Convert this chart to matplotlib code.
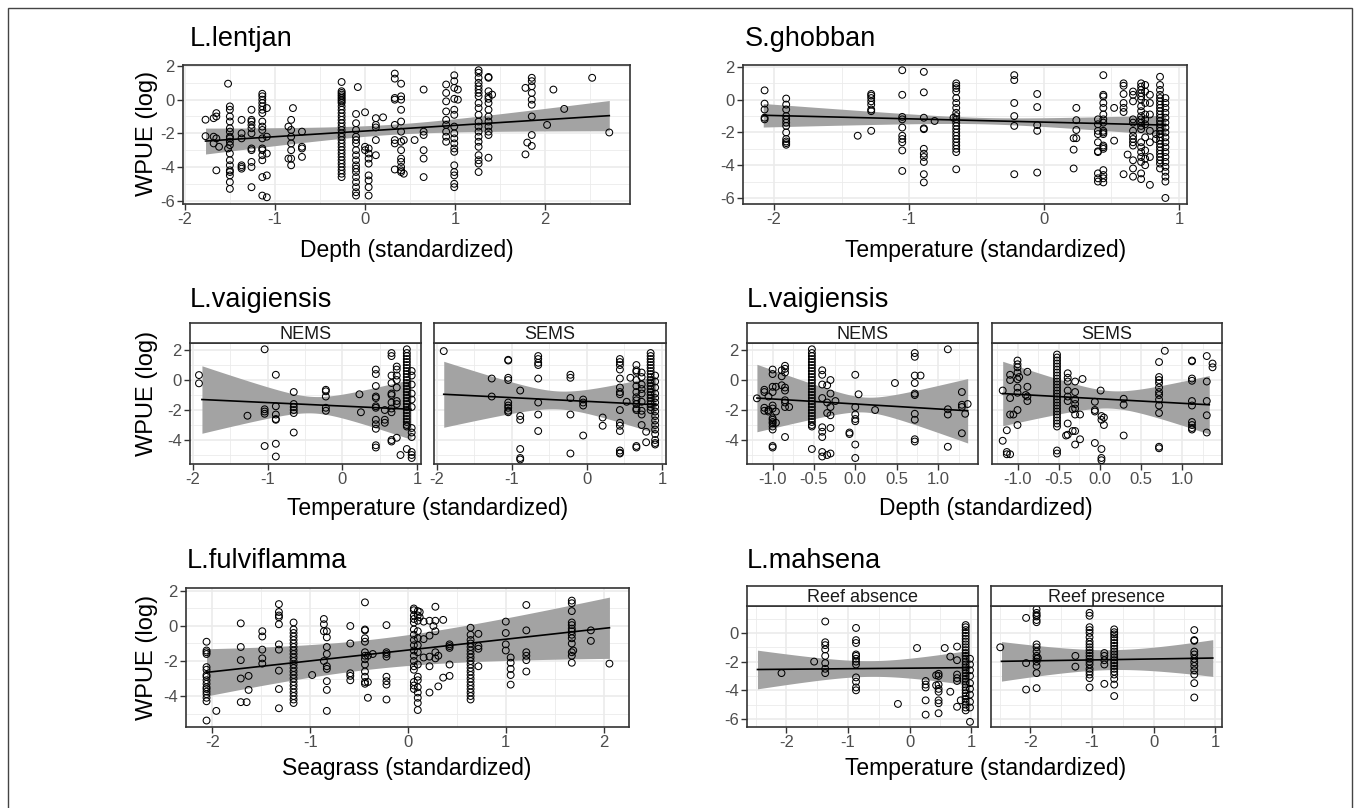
import numpy as np
import matplotlib
matplotlib.use("Agg")
import matplotlib.pyplot as plt
from matplotlib.ticker import MultipleLocator, FormatStrFormatter
from matplotlib.patches import Rectangle

plt.rcParams['font.family'] = ['Liberation Sans', 'DejaVu Sans']
plt.rcParams['axes.unicode_minus'] = False

W, H = 1360, 808

# ---------------- data: (x value, [WPUE log values]) columns ----------------
lentjan_depth = [
    (-1.77, [-1.19, -2.17]), (-1.68, [-1.1, -2.2, -2.6]), (-1.65, [-0.8, -1.0, -2.3, -4.2]),
    (-1.62, [-2.8]), (-1.52, [0.95, -2.9]),
    (-1.50, [-0.4, -0.6, -1.0, -1.3, -1.7, -1.9, -2.2, -2.3, -2.5, -2.7, -3.2, -3.6, -3.9, -4.2, -4.3, -4.5, -4.9, -5.3]),
    (-1.37, [-1.2, -2.0, -2.3, -3.9, -4.0, -4.1]),
    (-1.26, [-0.6, -1.2, -1.3, -1.5, -1.7, -2.0, -2.9, -3.0, -3.7, -4.0, -5.2]),
    (-1.14, [0.35, 0.2, 0.0, -0.2, -0.4, -0.6, -0.8, -1.3, -1.6, -1.8, -2.3, -2.9, -3.0, -3.3, -3.6, -4.6, -5.7]),
    (-1.09, [-0.5, -2.2, -3.2, -4.5, -5.8]), (-0.85, [-1.6, -3.5]),
    (-0.82, [-1.2, -1.8, -2.2, -2.6, -3.0, -3.5, -3.9]), (-0.80, [-0.5]),
    (-0.70, [-1.9, -2.8, -2.9, -3.4]),
    (-0.26, [1.05, 0.5, 0.4, 0.3, 0.2, 0.1, 0.0, -0.1, -0.2, -0.4, -0.6, -0.8, -1.0, -1.2, -1.4, -1.6, -1.8, -2.0,
             -2.2, -2.4, -2.6, -2.8, -3.0, -3.2, -3.4, -3.6, -3.8, -4.0, -4.2, -4.4, -4.6]),
    (-0.10, [-0.85, -1.4, -1.8, -2.2, -2.4, -2.6, -3.0, -3.3, -3.6, -3.9, -4.1, -4.3, -4.6, -4.9, -5.2, -5.5, -5.7]),
    (-0.08, [0.75]), (0.00, [-0.75, -2.8, -3.0]),
    (0.04, [-2.9, -3.2, -3.5, -3.8, -4.5, -4.8, -5.2, -5.7]),
    (0.12, [-1.1, -1.5, -1.65, -2.4, -3.3]), (0.20, [-1.05]),
    (0.33, [1.55, 1.25, 0.1, 0.0, -1.5, -2.4, -2.6, -4.15]),
    (0.40, [0.95, 0.2, 0.0, -0.6, -1.3, -1.9, -2.5, -3.0, -3.5, -3.7, -4.0, -4.2, -4.3]),
    (0.43, [-2.4, -4.4]), (0.55, [-2.4]), (0.65, [0.6, -1.9, -2.1, -3.0, -3.5, -4.6]),
    (0.90, [0.9, 0.4, -0.1, -0.7, -1.2, -1.5, -1.9, -2.2, -2.5]),
    (0.99, [1.45, 1.1, 0.7, 0.05, -0.6, -0.9, -1.6, -2.0, -2.3, -2.6, -2.9, -3.1, -3.9, -4.3, -4.5, -5.0, -5.2]),
    (1.03, [0.6, 0.0]),
    (1.26, [1.75, 1.6, 1.3, 1.0, 0.8, 0.6, 0.4, 0.2, -0.2, -0.5, -0.9, -1.3, -1.6, -1.9, -2.2, -2.5, -2.8, -3.3,
            -3.6, -3.8, -4.3]),
    (1.37, [1.35, 1.3, 0.5, 0.2, 0.05, -0.2, -0.6, -1.0, -1.3, -1.6, -1.9, -2.1, -3.45]),
    (1.41, [0.3]), (1.78, [0.7, -3.25]), (1.80, [-2.55]),
    (1.85, [1.3, 1.1, 0.8, 0.4, 0.0, -0.3, -1.0, -2.1, -2.75]),
    (2.02, [-1.5]), (2.09, [0.6]), (2.21, [-0.55]), (2.52, [1.3]), (2.71, [-1.95]),
]

ghobban_temp = [
    (-2.07, [0.57, -0.24, -0.6, -1.1, -1.2]),
    (-1.91, [0.07, -0.3, -0.6, -1.0, -1.2, -1.4, -1.6, -2.0, -2.4, -2.55, -2.65, -2.75]),
    (-1.38, [-2.2]), (-1.28, [0.35, 0.25, 0.1, -0.1, -0.3, -0.6, -0.7, -1.9]),
    (-1.05, [1.8, 0.3, -1.05, -1.2, -1.7, -2.2, -2.4, -2.6, -3.1, -4.35]),
    (-0.89, [1.7, 0.45, -1.1, -1.75, -1.8, -3.0, -3.3, -3.5, -3.8, -4.55, -5.05]),
    (-0.81, [-1.3]), (-0.67, [-1.1]),
    (-0.65, [1.0, 0.85, 0.7, 0.5, 0.1, -0.2, -0.5, -0.8, -1.0, -1.2, -1.4, -1.6, -1.8, -2.0, -2.2, -2.4, -2.6,
             -2.8, -3.0, -3.2, -4.25]),
    (-0.22, [1.5, 1.2, -0.2, -1.0, -1.6, -4.55]), (-0.05, [0.35, -0.45, -1.55, -1.9, -4.45]),
    (0.22, [-2.35, -3.05, -4.2]), (0.24, [-0.5, -1.25, -1.85, -2.35]),
    (0.40, [-1.2, -1.5, -1.9, -2.1, -2.6, -3.15, -3.2, -4.5, -4.8, -5.0]),
    (0.44, [1.5, 0.3, 0.2, -0.2, -0.5, -0.9, -1.2, -1.4, -1.9, -2.0, -2.1, -2.8, -2.9, -3.0, -4.3, -4.6, -4.8, -5.05]),
    (0.52, [-0.5, -2.5]), (0.59, [1.0, 0.85, 0.35, -0.2, -0.5, -0.75, -4.55]), (0.62, [-3.35]),
    (0.66, [0.5, 0.3, -0.1, -1.2, -1.4, -1.9, -2.2, -2.4, -2.6, -2.8, -3.7, -4.2, -4.7]),
    (0.72, [1.0, 0.8, 0.6, 0.4, 0.2, 0.0, -0.4, -0.7, -1.0, -1.2, -1.4, -1.6, -1.8, -2.6, -2.9, -3.2, -3.5, -3.8,
            -4.5, -4.85]),
    (0.75, [0.9, 0.5, -0.2, -0.9, -1.2, -1.5, -2.3, -3.1, -3.6, -4.0]),
    (0.785, [0.3, -0.2, -0.9, -1.9, -2.6, -3.5, -5.2]), (0.83, [-2.1, -2.4]),
    (0.86, [1.4, 0.9, 0.6, 0.3, 0.1, -0.1, -0.3, -0.5, -0.7, -0.9, -1.1, -1.3, -1.5, -1.7, -1.9, -2.1, -2.3, -2.5,
            -2.7, -2.9, -3.1, -3.3, -3.5, -3.7, -3.9, -4.2]),
    (0.90, [0.1, -0.2, -0.5, -0.8, -1.1, -1.4, -1.7, -2.0, -2.3, -2.6, -2.9, -3.2, -3.5, -3.8, -4.1, -4.4, -4.7,
            -5.0, -6.0]),
]

vaig_temp_nems = [
    (-1.92, [0.33, -0.22]), (-1.27, [-2.38]), (-1.04, [2.05, -1.95, -2.1, -2.25, -4.4]),
    (-0.89, [0.35, -1.75, -2.3, -2.6, -2.65, -4.25, -5.1]), (-0.65, [-0.8, -1.6, -1.8, -2.0, -2.2, -3.5]),
    (-0.22, [-0.65, -0.75, -1.1, -1.85, -2.05]), (0.23, [-0.95]), (0.25, [-2.15]),
    (0.45, [0.7, 0.4, -0.4, -1.1, -1.2, -1.75, -1.85, -2.65, -2.95, -3.25, -4.35, -4.5]),
    (0.57, [-2.0, -2.65, -2.85]),
    (0.66, [1.8, 1.6, 0.3, -0.2, -0.9, -1.0, -1.5, -1.9, -2.15, -4.0, -4.1]),
    (0.73, [0.9, 0.7, 0.3, 0.0, -0.5, -1.4, -1.6, -3.85]), (0.78, [-5.0]),
    (0.865, [2.05, 1.8, 1.6, 1.4, 1.2, 1.0, 0.8, 0.6, 0.4, 0.2, 0.0, -0.2, -0.4, -0.6, -0.8, -1.0, -1.2, -1.4,
             -1.6, -1.8, -2.0, -2.2, -2.4, -2.6, -2.8, -3.0, -3.1, -4.6]),
    (0.93, [0.6, 0.3, -0.3, -0.9, -1.3, -1.8, -3.2, -3.5, -3.8, -4.8, -5.0, -5.2]),
]

vaig_temp_sems = [
    (-1.91, [1.93]), (-1.27, [0.1, -1.1]), (-1.05, [1.35, 1.3, 0.15, 0.0, -1.5, -1.7, -1.85, -2.05, -2.15]),
    (-0.89, [-0.7, -2.4, -2.65, -4.6, -5.2, -5.3]), (-0.65, [1.6, 1.4, 1.15, 1.0, 0.1, -1.5, -2.3, -3.4]),
    (-0.22, [0.35, 0.15, -1.2, -2.3, -4.9]), (-0.05, [-1.3, -1.5, -1.7, -3.7]), (0.21, [-2.5, -3.05]),
    (0.44, [1.4, 1.2, 1.0, 0.7, 0.1, -0.5, -0.8, -0.95, -2.0, -2.85, -3.05, -3.4, -4.7, -4.85, -4.9]),
    (0.53, [-1.45]), (0.58, [0.15]),
    (0.66, [1.0, 0.65, 0.55, 0.0, -0.4, -0.8, -1.15, -1.35, -1.6, -1.9, -2.0, -4.4, -4.5]),
    (0.73, [0.5, 0.2, -0.3, -0.6, -0.9, -1.45, -2.05, -2.3, -3.0]), (0.79, [-3.45, -4.15]),
    (0.85, [1.8, 1.6, 1.4, 1.2, 1.0, 0.8, 0.6, 0.4, 0.2, 0.0, -0.2, -0.4, -0.6, -0.8, -1.0, -1.2, -1.4, -1.6,
            -1.8, -2.0]),
    (0.91, [0.3, -0.1, -0.5, -0.9, -1.2, -1.5, -1.8, -2.1, -2.4, -2.7, -3.0, -3.3, -3.6, -4.0, -4.2, -4.3]),
]

vaig_depth_nems = [
    (-1.19, [-1.22]), (-1.10, [-0.65, -0.8, -1.85, -2.05]), (-1.05, [-1.1, -2.0, -2.1]),
    (-1.00, [0.7, 0.4, -0.45, -0.8, -1.7, -1.9, -2.55, -2.65, -2.8, -2.9, -3.1, -3.3, -4.4, -4.5]),
    (-0.96, [-0.45, -2.1, -2.85]), (-0.89, [0.65, 0.25, -0.35]),
    (-0.85, [0.95, 0.75, 0.5, -0.5, -0.7, -1.35, -1.5, -1.8, -3.8]), (-0.80, [-1.8]),
    (-0.525, [2.05, 1.8, 1.6, 1.4, 1.2, 1.0, 0.8, 0.6, 0.4, 0.2, 0.0, -0.2, -0.4, -0.6, -0.8, -1.0, -1.2, -1.4,
              -1.6, -1.8, -2.0, -2.2, -2.4, -2.6, -2.8, -3.0, -3.1, -4.6]),
    (-0.40, [0.65, 0.35, -0.3, -1.2, -3.15, -3.45, -3.8, -4.8, -5.1]), (-0.34, [-0.35, -1.5, -2.2, -5.0]),
    (-0.30, [0.0, -0.9, -1.8, -2.35, -3.2, -4.9]), (-0.24, [-1.4]), (-0.07, [-3.5, -3.6]),
    (0.00, [0.35, -1.8, -2.3, -2.6, -2.75, -4.3, -5.2]), (0.04, [-0.95]), (0.24, [-2.0]), (0.48, [-0.2]),
    (0.72, [1.8, 1.55, 0.3, -0.2, -0.9, -1.0, -2.25, -2.65, -3.95, -4.1]), (0.79, [0.3]),
    (1.12, [2.05, -1.95, -2.3, -4.45]), (1.29, [-0.8, -1.65, -1.8, -3.55]), (1.33, [-2.25]), (1.36, [-1.6]),
]

vaig_depth_sems = [
    (-1.18, [-0.7, -4.05]), (-1.13, [-3.35, -4.8, -4.95]), (-1.09, [0.35, 0.0, -1.2, -2.3, -4.95]),
    (-1.05, [-2.3]), (-1.00, [1.3, 1.05, 0.85, 0.5, 0.05, -0.5, -0.85, -2.0, -3.0]), (-0.98, [0.2]),
    (-0.90, [-1.0]), (-0.88, [0.55, -0.45, -1.1, -1.4]),
    (-0.52, [1.7, 1.5, 1.3, 1.1, 0.9, 0.7, 0.5, 0.3, 0.1, -0.1, -0.3, -0.5, -0.7, -0.9, -1.1, -1.3, -1.5, -1.7,
             -1.9, -2.1, -2.3, -2.5, -2.7, -2.9, -3.1, -4.7, -4.9]),
    (-0.41, [-3.7]), (-0.39, [0.45, 0.15, -0.1, -0.7, -1.1, -1.4, -2.9, -3.65]), (-0.33, [-1.95, -3.4]),
    (-0.30, [-0.1, -0.8, -1.3, -1.6, -1.9, -2.3, -3.4, -4.3]), (-0.24, [-2.3, -3.95]), (-0.21, [0.07]),
    (-0.06, [-1.45, -2.0, -2.1, -4.2]), (0.01, [-0.7]), (0.02, [-2.4, -2.65, -4.6, -5.2, -5.35]),
    (0.05, [-2.5, -3.0]), (0.29, [-1.25, -1.65, -3.7]),
    (0.72, [1.2, 0.2, 0.0, -0.2, -0.5, -0.8, -1.0, -1.3, -1.7, -2.2, -4.45, -4.55]), (0.79, [1.95]),
    (1.12, [1.3, 1.25, 0.1, -0.05, -1.4, -1.7, -2.8, -3.0, -3.2, -3.3]), (1.30, [1.6, -0.1, -1.4, -2.35, -3.5]),
    (1.37, [1.1, 0.85]),
]

fulvi_seagrass = [
    (-2.06, [-0.9, -1.4, -1.5, -1.6, -2.35, -2.5, -2.8, -2.9, -3.1, -3.3, -3.5, -3.6, -3.75, -3.9, -4.1, -4.3, -5.4]),
    (-1.96, [-4.85]), (-1.71, [0.15, -1.2, -1.95, -3.0, -4.35]), (-1.65, [-4.35]), (-1.63, [-2.85, -3.65]),
    (-1.49, [-0.3, -0.6, -1.35, -1.85, -2.15]),
    (-1.32, [1.25, 0.8, 0.6, 0.5, 0.1, -1.05, -1.35, -2.55, -3.6, -4.7]),
    (-1.17, [0.2, -0.2, -0.4, -0.6, -0.8, -1.0, -1.2, -1.4, -1.6, -1.8, -2.0, -2.2, -2.4, -2.6, -2.8, -3.0, -3.2,
             -3.4, -3.6, -3.8, -4.0, -4.2, -4.4]),
    (-0.98, [-2.8]), (-0.86, [0.4, 0.1, -0.3, -2.0]),
    (-0.83, [-0.3, -0.65, -1.2, -1.6, -2.3, -2.45, -3.15, -3.65, -4.85]),
    (-0.59, [0.0, -1.0, -2.7, -2.85, -3.1]),
    (-0.44, [1.35, -0.2, -0.25, -0.7, -0.9, -1.5, -1.7, -1.9, -2.2, -2.6, -2.9, -3.2, -3.3]),
    (-0.41, [-1.7, -3.2, -4.1]), (-0.36, [-1.6]),
    (-0.22, [0.05, -1.5, -1.6, -1.75, -2.9, -3.15, -3.35, -4.2]),
    (0.06, [1.0, 0.9, 0.6, 0.4, 0.2, -0.2, -0.5, -0.8, -1.1, -1.4, -1.7, -2.0, -2.3, -2.5, -3.2, -3.4, -3.6]),
    (0.10, [0.85, 0.6, 0.3, -0.3, -0.7, -1.1, -1.5, -2.2, -2.9, -3.1, -3.5, -3.8, -4.1, -4.4, -4.8]),
    (0.12, [0.8, 0.5]), (0.16, [0.25, -0.75, -1.8]), (0.22, [0.3, -0.55, -1.75, -2.3, -3.8]), (0.26, [0.0]),
    (0.28, [1.1, 0.3, -0.3, -1.5, -1.85]), (0.31, [-1.7, -3.45]), (0.36, [0.35, -2.95]),
    (0.425, [-1.05, -1.15, -1.25, -2.2, -2.85]),
    (0.64, [-0.1, -0.5, -0.8, -1.0, -1.2, -1.4, -1.6, -1.8, -2.0, -2.2, -2.4, -2.6, -2.8, -3.0, -3.2, -3.4, -3.6,
            -3.8, -4.0, -4.2]),
    (0.72, [-0.45, -1.15, -1.3, -2.3]), (1.00, [0.25, -0.4, -1.05, -1.4]),
    (1.05, [-1.8, -2.1, -2.45, -2.8, -3.35]), (1.21, [1.2, -0.25, -1.5, -1.7, -1.95, -2.6]),
    (1.675, [1.45, 1.3, 0.85, 0.2, 0.05, -0.15, -0.3, -0.5, -0.7, -1.0, -1.5, -1.7, -2.1]),
    (1.69, [-1.4]), (1.87, [-0.25, -0.85]), (2.06, [-2.15]),
]

mahsena_absence = [
    (-2.08, [-2.8]), (-1.55, [-2.0]), (-1.37, [0.8, -0.65, -0.85, -1.15, -1.6, -2.1, -2.5, -2.8]),
    (-0.87, [0.35, -0.5, -0.7, -1.5, -1.6, -1.8, -2.0, -2.2, -3.1, -3.4, -3.8, -4.0]),
    (-0.19, [-4.95]), (0.12, [-1.05]), (0.26, [-3.35, -3.6, -3.8, -4.7, -5.7]), (0.43, [-3.65, -2.95]),
    (0.47, [-2.85, -3.0, -3.6, -3.9, -4.1, -4.7, -4.9, -5.6]), (0.57, [-1.05]), (0.66, [-1.65, -4.1]),
    (0.77, [-0.95, -1.9, -2.9, -3.15, -3.35, -5.15]), (0.83, [-4.7]),
    (0.91, [0.55, 0.4, 0.2, 0.0, -0.2, -0.4, -0.6, -0.8, -1.0, -1.2, -1.4, -1.6, -1.8, -2.0, -2.2, -2.4, -2.6,
            -2.8, -3.0, -3.2, -3.4, -3.6, -3.8, -4.0, -4.2, -4.4, -4.6, -4.8, -5.0, -5.2, -5.4]),
    (0.98, [-1.8, -2.2, -2.6, -3.0, -3.5, -3.9, -4.3, -4.8, -5.2, -6.2]),
]

mahsena_presence = [
    (-2.49, [-1.0]), (-2.07, [1.05, -2.1, -3.95]),
    (-1.90, [1.65, 1.4, 1.25, 1.15, 0.9, 0.75, -0.8, -1.0, -1.3, -1.6, -1.8, -2.0, -2.3, -2.8, -3.85]),
    (-1.88, [-1.75]), (-1.27, [-1.6, -2.35]),
    (-1.04, [1.4, 1.2, 0.4, 0.2, 0.0, -0.3, -0.6, -0.8, -1.0, -1.2, -1.4, -1.6, -1.8, -2.0, -2.2, -2.5, -2.7,
             -2.9, -3.15, -3.8]),
    (-0.80, [-1.4, -1.6, -1.9, -2.2, -3.55]),
    (-0.64, [0.25, 0.05, -0.1, -0.3, -0.5, -0.7, -0.9, -1.1, -1.3, -1.5, -1.7, -1.9, -2.1, -2.3, -2.5, -2.7,
             -2.9, -3.2, -3.6, -4.4]),
    (0.66, [0.2, -0.5, -0.55, -1.3, -1.5, -1.8, -2.05, -2.3, -2.6, -2.9, -3.5, -4.5]),
]

# fitted line (x range, y at ends) and confidence half-widths at three x positions
fit_lentjan = dict(x=[-1.77, 2.71], y=[-2.46, -0.95], hx=[-1.77, 0.3, 2.71], hw=[0.77, 0.30, 0.90])
fit_ghobban = dict(x=[-2.08, 0.90], y=[-0.95, -1.55], hx=[-2.08, 0.1, 0.90], hw=[0.72, 0.30, 0.60])
fit_vt_nems = dict(x=[-1.88, 0.92], y=[-1.3, -1.95], hx=[-1.88, -0.4, 0.92], hw=[2.25, 0.55, 2.0])
fit_vt_sems = dict(x=[-1.91, 0.92], y=[-0.95, -1.65], hx=[-1.91, -0.4, 0.92], hw=[2.2, 0.6, 1.9])
fit_vd_nems = dict(x=[-1.19, 1.36], y=[-1.2, -2.05], hx=[-1.19, 0.1, 1.36], hw=[2.25, 0.5, 2.15])
fit_vd_sems = dict(x=[-1.18, 1.33], y=[-0.9, -1.65], hx=[-1.18, 0.05, 1.33], hw=[2.15, 0.6, 1.95])
fit_fulvi = dict(x=[-2.06, 2.06], y=[-2.65, -0.10], hx=[-2.06, -0.3, 2.06], hw=[1.35, 0.85, 1.75])
fit_mah_abs = dict(x=[-2.47, 0.96], y=[-2.55, -2.42], hx=[-2.47, -0.7, 0.96], hw=[1.35, 0.55, 1.2])
fit_mah_pre = dict(x=[-2.47, 0.96], y=[-1.98, -1.75], hx=[-2.47, -0.8, 0.96], hw=[1.38, 0.7, 1.28])

# ---------------- drawing ----------------
GRID = '#EBEBEB'
BORDER = '#333333'
TICKC = '#4D4D4D'

fig = plt.figure(figsize=(W / 100, H / 100), dpi=100)


def px_axes(x0, y0, x1, y1):
    return fig.add_axes([x0 / W, 1 - y1 / H, (x1 - x0) / W, (y1 - y0) / H])


def columns_to_xy(cols):
    xs, ys = [], []
    for xv, yl in cols:
        xs.extend([xv] * len(yl))
        ys.extend(yl)
    return np.array(xs), np.array(ys)


def panel(box, cols, fit, xlim, ylim, xstep, ystep, xfmt='%d', ylabels=True, strip=None):
    ax = px_axes(*box)
    ax.set_xlim(*xlim)
    ax.set_ylim(*ylim)
    ax.xaxis.set_major_locator(MultipleLocator(xstep))
    ax.xaxis.set_minor_locator(MultipleLocator(xstep / 2))
    ax.yaxis.set_major_locator(MultipleLocator(ystep))
    ax.yaxis.set_minor_locator(MultipleLocator(ystep / 2))
    ax.xaxis.set_major_formatter(FormatStrFormatter(xfmt))
    ax.yaxis.set_major_formatter(FormatStrFormatter('%d'))
    ax.grid(True, which='major', color=GRID, lw=1.2, zorder=0)
    ax.grid(True, which='minor', color=GRID, lw=0.6, zorder=0)
    ax.set_axisbelow(True)
    for s in ax.spines.values():
        s.set_color(BORDER)
        s.set_linewidth(1.2)
    ax.tick_params(which='major', direction='out', length=4, width=1.0, color=BORDER,
                   labelsize=12, labelcolor=TICKC, pad=2)
    ax.tick_params(which='minor', length=0)
    if not ylabels:
        ax.tick_params(axis='y', which='major', length=0, labelleft=False)
    # band + fit
    xs = np.linspace(fit['x'][0], fit['x'][1], 300)
    slope = (fit['y'][1] - fit['y'][0]) / (fit['x'][1] - fit['x'][0])
    yfit = fit['y'][0] + slope * (xs - fit['x'][0])
    coef = np.polyfit(fit['hx'], np.square(fit['hw']), 2)
    hw = np.sqrt(np.clip(np.polyval(coef, xs), 0, None))
    ax.fill_between(xs, yfit - hw, yfit + hw, color='#A3A3A3', lw=0, zorder=2)
    px, py = columns_to_xy(cols)
    ax.scatter(px, py, s=24, facecolors='none', edgecolors='black', linewidths=0.75, zorder=3)
    ax.plot(xs, yfit, color='black', lw=1.2, zorder=4)
    if strip is not None:
        x0, y0, x1, y1 = box
        sax = px_axes(x0, y0 - 20, x1, y0)
        sax.set_xticks([])
        sax.set_yticks([])
        sax.set_facecolor('white')
        for s in sax.spines.values():
            s.set_color(BORDER)
            s.set_linewidth(1.2)
        sax.text(0.5, 0.45, strip, transform=sax.transAxes, ha='center', va='center',
                 fontsize=13, color='#1A1A1A')
    return ax


def ftext(x, y, s, **kw):
    fig.text(x / W, 1 - y / H, s, **kw)


TITLE = 19.5
XLAB = 16.5
YLAB = 17

# Row 1
panel((183, 65, 630, 204), lentjan_depth, fit_lentjan, (-2.02, 2.94), (-6.2, 2.06), 1, 2)
panel((743, 65, 1187, 204), ghobban_temp, fit_ghobban, (-2.23, 1.06), (-6.37, 2.12), 1, 2)
ftext(190, 46, 'L.lentjan', fontsize=TITLE, va='baseline')
ftext(745, 46, 'S.ghobban', fontsize=TITLE, va='baseline')
ftext(407, 257, 'Depth (standardized)', fontsize=XLAB, ha='center', va='baseline')
ftext(986, 257, 'Temperature (standardized)', fontsize=XLAB, ha='center', va='baseline')
ftext(147, 133, 'WPUE (log)', fontsize=YLAB, ha='center', va='center', rotation=90)

# Row 2
YL2 = (-5.6, 2.47)
panel((190, 343, 421, 464), vaig_temp_nems, fit_vt_nems, (-2.04, 1.055), YL2, 1, 2, strip='NEMS')
panel((434, 343, 666, 464), vaig_temp_sems, fit_vt_sems, (-2.04, 1.055), YL2, 1, 2, ylabels=False, strip='SEMS')
panel((747, 343, 978, 464), vaig_depth_nems, fit_vd_nems, (-1.31, 1.485), YL2, 0.5, 2, xfmt='%.1f', strip='NEMS')
panel((992, 343, 1222, 464), vaig_depth_sems, fit_vd_sems, (-1.31, 1.485), YL2, 0.5, 2, xfmt='%.1f',
      ylabels=False, strip='SEMS')
ftext(190, 307, 'L.vaigiensis', fontsize=TITLE, va='baseline')
ftext(747, 307, 'L.vaigiensis', fontsize=TITLE, va='baseline')
ftext(428, 515, 'Temperature (standardized)', fontsize=XLAB, ha='center', va='baseline')
ftext(986, 515, 'Depth (standardized)', fontsize=XLAB, ha='center', va='baseline')
ftext(147, 393, 'WPUE (log)', fontsize=YLAB, ha='center', va='center', rotation=90)

# Row 3
YL3 = (-6.56, 1.88)
panel((186, 588, 629, 727), fulvi_seagrass, fit_fulvi, (-2.27, 2.26), (-5.77, 2.17), 1, 2)
panel((747, 606, 978, 727), mahsena_absence, fit_mah_abs, (-2.64, 1.11), YL3, 1, 2, strip='Reef absence')
panel((991, 606, 1222, 727), mahsena_presence, fit_mah_pre, (-2.64, 1.11), YL3, 1, 2, ylabels=False,
      strip='Reef presence')
ftext(187, 568, 'L.fulviflamma', fontsize=TITLE, va='baseline')
ftext(747, 568, 'L.mahsena', fontsize=TITLE, va='baseline')
ftext(407, 775, 'Seagrass (standardized)', fontsize=XLAB, ha='center', va='baseline')
ftext(986, 775, 'Temperature (standardized)', fontsize=XLAB, ha='center', va='baseline')
ftext(147, 657, 'WPUE (log)', fontsize=YLAB, ha='center', va='center', rotation=90)

# outer frame
fig.patches.append(Rectangle((8 / W, -0.01), (1352 - 8) / W, 1 - 8 / H + 0.01, transform=fig.transFigure,
                             fill=False, edgecolor='#444444', lw=1.0))

fig.savefig('out.png', dpi=100)
